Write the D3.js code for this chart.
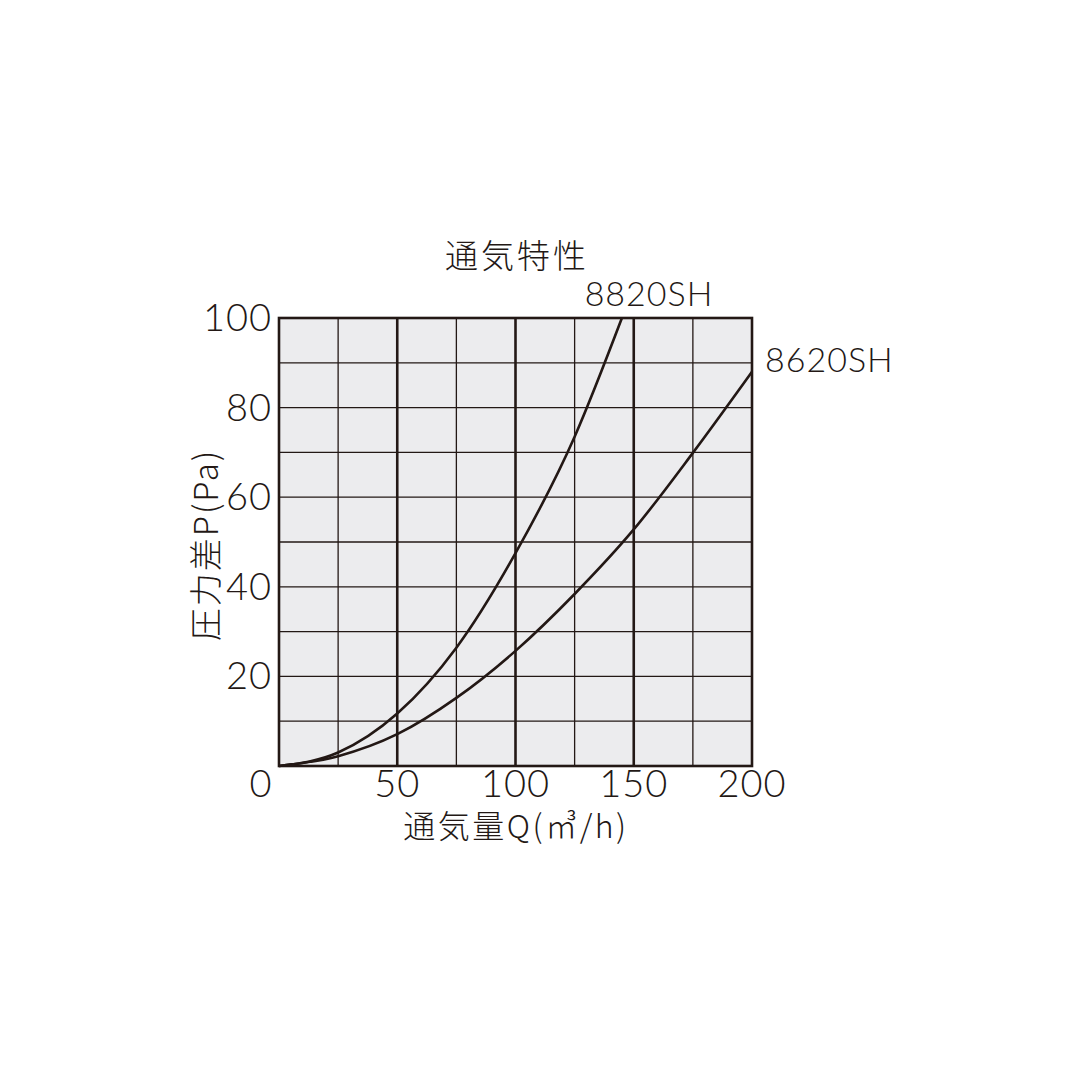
<!DOCTYPE html>
<html>
<head>
<meta charset="utf-8">
<script src="https://cdn.jsdelivr.net/npm/d3@7"></script>
<style>
  body { margin: 0; background: #fff; }
  text { font-family: "Noto Sans CJK JP", "Noto Sans", sans-serif; font-weight: 300; fill: #231815; }
  text.num { font-family: "Lato", "Noto Sans", sans-serif; font-weight: 300; }
</style>
</head>
<body>
<div id="chart"></div>
<script>
// Data
var flowQ = [0, 25, 50, 75, 100, 125, 145];          // 8820SH flow (m3/h)
var press8820 = [0, 3, 11.7, 26.4, 47.5, 73.5, 100]; // 8820SH pressure (Pa)
var flowQ2 = [0, 25, 50, 75, 100, 125, 150, 175, 200]; // 8620SH flow
var press8620 = [0, 2.2, 7.1, 15.2, 25.7, 38.4, 52.8, 69.9, 88]; // 8620SH pressure
var xTicks = [0, 50, 100, 150, 200];
var yTicks = [20, 40, 60, 80, 100];
var xGrid = [25, 50, 75, 100, 125, 150, 175];
var yGrid = [10, 20, 30, 40, 50, 60, 70, 80, 90];
var boldX = [50, 100, 150];

var width = 1080, height = 1080;
var margin = { top: 318, right: 328, bottom: 314, left: 279 };
var ink = "#231815";

var svg = d3.select("#chart").append("svg")
  .attr("width", width)
  .attr("height", height);

// Scales
var xScale = d3.scaleLinear().domain([0, 200]).range([margin.left, width - margin.right]);
var yScale = d3.scaleLinear().domain([0, 100]).range([height - margin.bottom, margin.top]);

// Plot background
svg.append("rect")
  .attr("x", xScale(0)).attr("y", yScale(100))
  .attr("width", xScale(200) - xScale(0))
  .attr("height", yScale(0) - yScale(100))
  .attr("fill", "#ececee");

// Grid lines
svg.append("g").selectAll("line.hgrid")
  .data(yGrid).enter().append("line")
  .attr("x1", xScale(0)).attr("x2", xScale(200))
  .attr("y1", function(d) { return yScale(d); })
  .attr("y2", function(d) { return yScale(d); })
  .attr("stroke", ink).attr("stroke-width", 1.3);

svg.append("g").selectAll("line.vgrid")
  .data(xGrid).enter().append("line")
  .attr("y1", yScale(0)).attr("y2", yScale(100))
  .attr("x1", function(d) { return xScale(d); })
  .attr("x2", function(d) { return xScale(d); })
  .attr("stroke", ink)
  .attr("stroke-width", function(d) { return boldX.includes(d) ? 2.6 : 1.3; });

// Curves
var line = d3.line()
  .x(function(d) { return xScale(d[0]); })
  .y(function(d) { return yScale(d[1]); })
  .curve(d3.curveMonotoneX);

svg.append("path")
  .datum(d3.zip(flowQ, press8820))
  .attr("d", line)
  .attr("fill", "none").attr("stroke", ink).attr("stroke-width", 2.6);

svg.append("path")
  .datum(d3.zip(flowQ2, press8620))
  .attr("d", line)
  .attr("fill", "none").attr("stroke", ink).attr("stroke-width", 2.6);

// Frame
svg.append("rect")
  .attr("x", xScale(0)).attr("y", yScale(100))
  .attr("width", xScale(200) - xScale(0))
  .attr("height", yScale(0) - yScale(100))
  .attr("fill", "none").attr("stroke", ink).attr("stroke-width", 2.6);

// Axis tick labels
svg.append("g").selectAll("text.xt")
  .data(xTicks).enter().append("text")
  .attr("class", "num")
  .attr("x", function(d) { return d === 0 ? xScale(d) - 18 : xScale(d); })
  .attr("y", yScale(0) + 31)
  .attr("text-anchor", "middle")
  .attr("font-size", 38)
  .attr("letter-spacing", 1)
  .text(function(d) { return d; });

svg.append("g").selectAll("text.yt")
  .data(yTicks).enter().append("text")
  .attr("class", "num")
  .attr("x", xScale(0) - 7)
  .attr("y", function(d) { return yScale(d) + 13; })
  .attr("text-anchor", "end")
  .attr("font-size", 38)
  .attr("letter-spacing", 1)
  .text(function(d) { return d; });

// Title and axis titles
svg.append("text")
  .attr("x", 517).attr("y", 268)
  .attr("text-anchor", "middle")
  .attr("font-size", 33)
  .attr("letter-spacing", 3)
  .text("通気特性");

svg.append("text")
  .attr("x", 516).attr("y", 838)
  .attr("text-anchor", "middle")
  .attr("font-size", 32)
  .attr("letter-spacing", 2.5)
  .text("通気量Q(㎥/h)");

svg.append("text")
  .attr("transform", "translate(218,545) rotate(-90)")
  .attr("text-anchor", "middle")
  .attr("font-size", 33)
  .attr("letter-spacing", 2)
  .text("圧力差P(Pa)");

// Series labels
svg.append("text")
  .attr("class", "num")
  .attr("x", 649).attr("y", 306)
  .attr("text-anchor", "middle")
  .attr("font-size", 34)
  .attr("letter-spacing", 1)
  .text("8820SH");

svg.append("text")
  .attr("class", "num")
  .attr("x", 765).attr("y", 372)
  .attr("font-size", 34)
  .attr("letter-spacing", 1)
  .text("8620SH");
</script>
</body>
</html>
